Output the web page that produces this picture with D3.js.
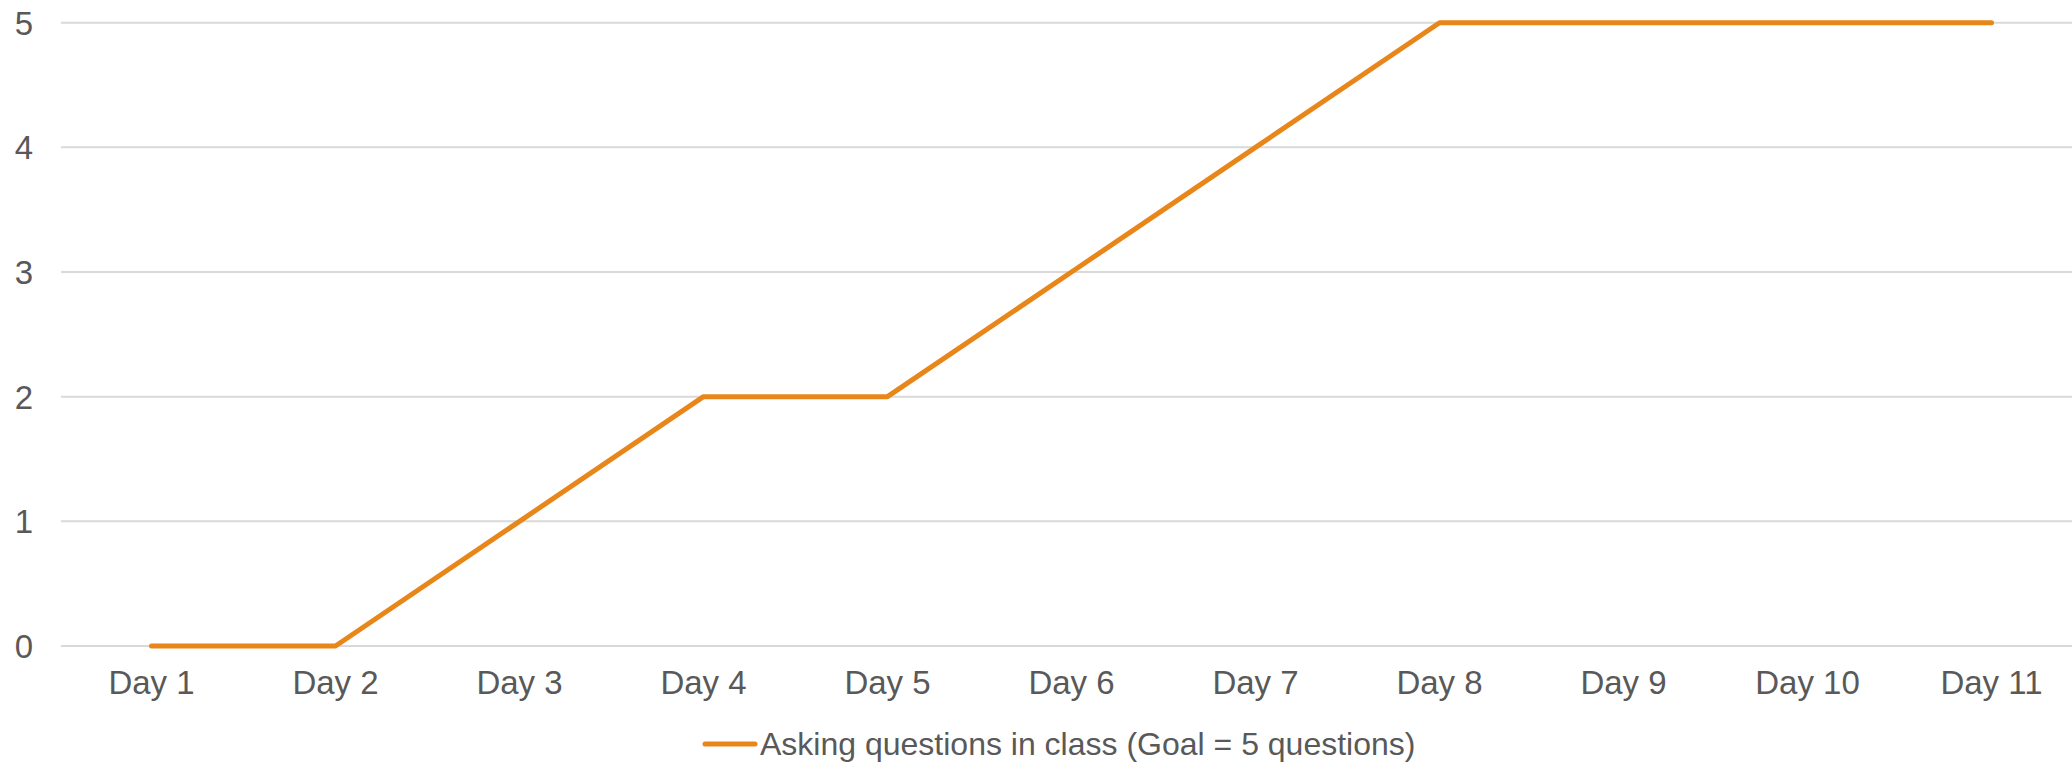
<!DOCTYPE html>
<html>
<head>
<meta charset="utf-8">
<script src="https://cdn.jsdelivr.net/npm/d3@7"></script>
<style>
  html, body { margin: 0; padding: 0; background: #fff; }
  svg { display: block; }
  text { font-family: "Liberation Sans", Arial, sans-serif; fill: #595959; }
</style>
</head>
<body>
<div id="chart"></div>
<script>
// Chart data
const days = ['Day 1', 'Day 2', 'Day 3', 'Day 4', 'Day 5', 'Day 6', 'Day 7', 'Day 8', 'Day 9', 'Day 10', 'Day 11'];
const questions = [0, 0, 1, 2, 2, 3, 4, 5, 5, 5, 5];
const yTicks = [0, 1, 2, 3, 4, 5];
const seriesName = 'Asking questions in class (Goal = 5 questions)';

const width = 2072, height = 762;
const lineColor = '#E8861A';

const svg = d3.select('#chart')
    .append('svg')
    .attr('width', width)
    .attr('height', height);

// Scales
const x = d3.scalePoint()
    .domain(days)
    .range([151.5, 1991.5]);

const y = d3.scaleLinear()
    .domain([0, 5])
    .range([646, 22.7]);

// Gridlines
svg.append('g')
    .selectAll('line')
    .data(yTicks)
    .enter()
    .append('line')
    .attr('x1', 61)
    .attr('x2', width)
    .attr('y1', d => y(d))
    .attr('y2', d => y(d))
    .attr('stroke', '#D9D9D9')
    .attr('stroke-width', 2);

// Y labels
svg.append('g')
    .selectAll('text')
    .data(yTicks)
    .enter()
    .append('text')
    .attr('x', 24)
    .attr('y', d => y(d))
    .attr('dy', '0.36em')
    .attr('text-anchor', 'middle')
    .style('font-size', '33px')
    .text(d => d);

// X labels
svg.append('g')
    .selectAll('text')
    .data(days)
    .enter()
    .append('text')
    .attr('x', d => x(d))
    .attr('y', 694)
    .attr('text-anchor', 'middle')
    .style('font-size', '33px')
    .text(d => d);

// Line
const line = d3.line()
    .x((d, i) => x(days[i]))
    .y(d => y(d));

svg.append('path')
    .datum(questions)
    .attr('d', line)
    .attr('fill', 'none')
    .attr('stroke', lineColor)
    .attr('stroke-width', 5)
    .attr('stroke-linejoin', 'round')
    .attr('stroke-linecap', 'round');

// Legend
const legend = svg.append('g');
legend.append('line')
    .attr('x1', 705)
    .attr('x2', 755)
    .attr('y1', 744)
    .attr('y2', 744)
    .attr('stroke', lineColor)
    .attr('stroke-width', 5)
    .attr('stroke-linecap', 'round');

legend.append('text')
    .attr('x', 760)
    .attr('y', 755)
    .style('font-size', '32px')
    .text(seriesName);
</script>
</body>
</html>
